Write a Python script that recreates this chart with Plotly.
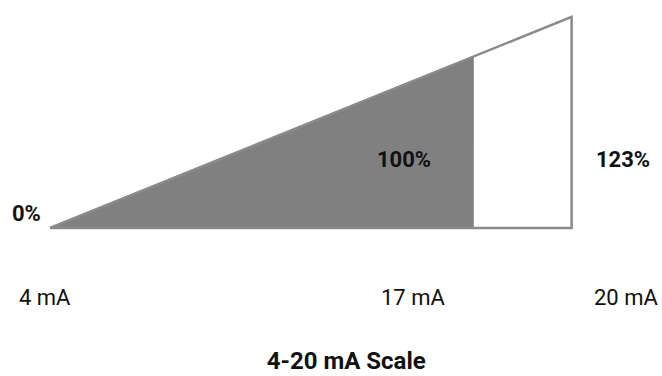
import plotly.graph_objects as go

# scale points: loop current vs. percent of span
current_ma = [4, 17, 20]
percent = [0, 100, 123]
pct_labels = ["0%", "100%", "123%"]
ma_labels = ["4 mA", "17 mA", "20 mA"]
title_text = "4-20 mA Scale"

FONT = "Roboto, Arial, sans-serif"
INK = "#111111"

fig = go.Figure()

# filled part: 4 mA -> 17 mA (0..100%)
fig.add_trace(go.Scatter(
    x=[current_ma[0], current_ma[1], current_ma[1], current_ma[0]],
    y=[percent[0], percent[1], percent[0], percent[0]],
    mode="lines", fill="toself", fillcolor="#808080",
    line=dict(width=0), hoverinfo="skip", showlegend=False,
))

# outline of the full range: 4 mA -> 20 mA (0..123%)
fig.add_trace(go.Scatter(
    x=[current_ma[0], current_ma[2], current_ma[2], current_ma[0]],
    y=[percent[0], percent[2], percent[0], percent[0]],
    mode="lines", line=dict(color="#8a8a8a", width=2.5),
    hoverinfo="skip", showlegend=False,
))

# percent labels next to the shape
pct_pos = [
    dict(x=current_ma[0], y=percent[0], xanchor="right", yanchor="middle", xshift=-7, yshift=15),
    dict(x=current_ma[1], y=40, xanchor="center", yanchor="middle", xshift=-70, yshift=0),
    dict(x=current_ma[2], y=40, xanchor="center", yanchor="middle", xshift=51, yshift=0),
]
for txt, pos in zip(pct_labels, pct_pos):
    fig.add_annotation(text=txt, showarrow=False, xref="x", yref="y",
                       font=dict(family=FONT, size=22, color=INK, weight="bold"), **pos)

# current labels under the shape
label_x = [0.068, 0.624, 0.946]
for txt, lx in zip(ma_labels, label_x):
    fig.add_annotation(text=txt, showarrow=False, xref="paper", yref="paper",
                       x=lx, y=0.21, xanchor="center", yanchor="middle",
                       font=dict(family=FONT, size=22, color=INK))

fig.update_layout(
    width=662, height=376,
    margin=dict(l=0, r=0, t=0, b=0),
    paper_bgcolor="white", plot_bgcolor="white",
    title=dict(text=title_text, x=0.523, xanchor="center", y=0.04, yanchor="middle",
               font=dict(family=FONT, size=24, color=INK, weight="bold")),
    xaxis=dict(range=[2.466, 22.773], visible=False, fixedrange=True),
    yaxis=dict(range=[-86.2, 132.8], visible=False, fixedrange=True),
)

fig.write_html("out.html", config={"displayModeBar": False},
               post_script="document.body.style.margin='0';")
